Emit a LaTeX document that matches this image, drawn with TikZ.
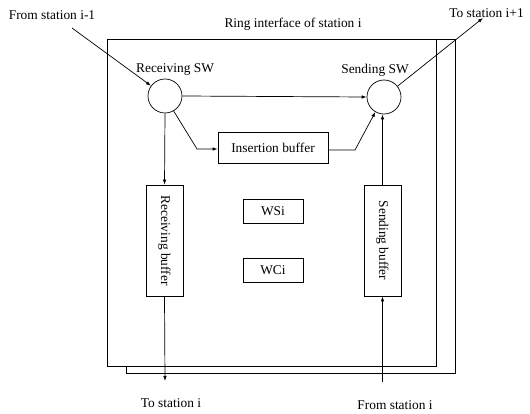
\documentclass[tikz,border=0pt]{standalone}
\usepackage{fontspec}
\setmainfont{Liberation Serif}
\usetikzlibrary{arrows.meta}
\begin{document}
\begin{tikzpicture}[x=1pt,y=-1pt,
  line width=0.7pt,
  lbl/.style={font=\fontsize{13.4}{15}\selectfont, inner sep=0pt},
  sw/.style={draw, circle, minimum size=34pt, inner sep=0pt},
  buf/.style={draw, rectangle, font=\fontsize{13.4}{15}\selectfont, inner sep=0pt},
  arr/.style={-{Latex[length=5pt,width=3.5pt]}}]
\useasboundingbox (0,0) rectangle (530,414);
\clip (0,0) rectangle (530,414);
% shadow frame behind the interface box
\draw (436,39) -- (455,39) -- (455,373) -- (126,373) -- (126,366);
% interface box
\draw (107.5,39.5) rectangle (436,366);
% switches
\node[sw] (rsw) at (165,96) {};
\node[sw] (ssw) at (384,97) {};
% buffers and registers
\node[buf, minimum width=110pt, minimum height=31pt] (ins) at (273,147.5) {Insertion buffer};
\node[buf, minimum width=111pt, minimum height=37pt, rotate=-90] (rbuf) at (164.5,240.5) {Receiving buffer};
\node[buf, minimum width=111pt, minimum height=37pt, rotate=-90] (sbuf) at (382.5,240.5) {Sending buffer};
\node[buf, minimum width=60pt, minimum height=24pt] (wsi) at (273,211) {WSi};
\node[buf, minimum width=60pt, minimum height=24pt] (wci) at (273,270) {WCi};
% labels
\node[lbl] (from1) at (52,15) {From station i-1};
\node[lbl] (title) at (293,24) {Ring interface of station i};
\node[lbl, anchor=west] (to1) at (449,13) {To station i+1};
\node[lbl] (rswl) at (175,70) {Receiving SW};
\node[lbl] (sswl) at (375,70) {Sending SW};
\node[lbl] (toi) at (171,403) {To station i};
\node[lbl] (fromi) at (395,405) {From station i};
% free ends of the external links
\coordinate (inA) at (72,28);
\coordinate (outA) at (483,18);
\coordinate (outB) at (165,381);
\coordinate (inB) at (382.5,382);
% connectors
\draw[arr] (inA) -- (rsw);
\draw[arr] (ssw) -- (outA);
\draw[arr] (rsw.east) -- (ssw.west);
\draw[arr] (rsw.-60) -- (197,149) -- (ins.west |- 0,149);
\draw[arr] (ins.east |- 0,150) -- (355,150) -- (ssw.-120);
\draw[arr] (rsw.south) -- (rbuf.west);
\draw[arr] (rbuf.east) -- (outB);
\draw[arr] (inB) -- (sbuf.east);
\draw[arr] (sbuf.west) -- (ssw.south -| sbuf.west);
\end{tikzpicture}
\end{document}
